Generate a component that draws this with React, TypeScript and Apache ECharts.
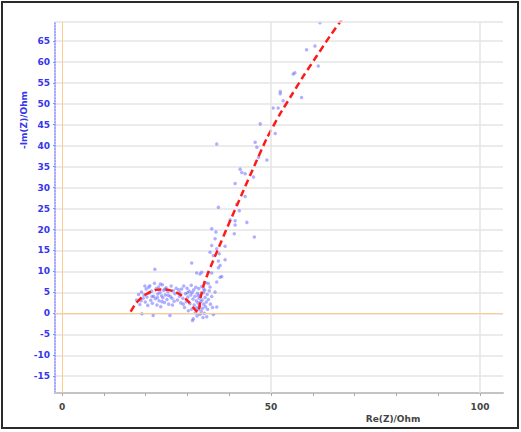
import * as echarts from 'echarts';
import { useEffect, useRef } from 'react';

// 坐标轴刻度
const yTickValues = [-15, -10, -5, 0, 5, 10, 15, 20, 25, 30, 35, 40, 45, 50, 55, 60, 65];
const xLabelValues = [0, 50, 100];
const xTickValues = [0, 10, 20, 30, 40, 50, 60, 70, 80, 90, 100];
const xGridValues = [50, 100];

// 拟合曲线 (红色虚线)
const fitX = [16.4, 17.5, 18.5, 19.5, 20.5, 21.5, 22.5, 23.5, 24.5, 25.5, 26.5, 27.5, 28.5, 29.5, 30.5, 31.3, 32.0, 32.6, 33.2, 34.0, 35.0, 37.0, 40.0, 43.0, 46.0, 49.0, 52.0, 55.0, 58.0, 61.0, 64.0, 67.0];
const fitY = [0.4, 2.2, 3.3, 4.2, 4.8, 5.3, 5.6, 5.7, 5.7, 5.6, 5.3, 4.9, 4.3, 3.5, 2.5, 1.5, 0.7, 0.3, 4.0, 7.2, 9.8, 14.6, 21.6, 28.4, 35.2, 41.8, 47.3, 52.2, 57.0, 61.5, 66.0, 70.2];

// 测量点: 高频半圆
const arcPoints = [
  [17.8, 3.2], [18.3, 4.5], [18.6, 2.1], [19.0, 5.1], [19.1, -0.1], [19.4, 3.6], [19.6, 4.4], [19.9, 2.7],
  [20.1, 5.8], [20.3, 3.9], [20.5, 1.9], [20.8, 4.8], [21.0, 6.6], [21.2, 3.1], [21.4, 5.3], [21.6, 2.4],
  [21.8, -0.5], [21.9, 4.1], [22.1, 7.2], [22.2, 10.5], [22.3, 3.5], [22.5, 5.9], [22.7, 2.0], [22.9, 4.6],
  [23.1, 6.3], [23.2, 3.0], [23.4, 5.0], [23.6, 1.6], [23.8, 4.2], [24.0, 6.8], [24.1, 3.7], [24.3, 5.5],
  [24.5, 2.6], [24.7, 4.4], [24.9, 6.1], [25.1, 3.3], [25.3, 5.2], [25.5, 2.2], [25.8, -0.5], [25.9, 4.0],
  [26.1, 6.5], [26.3, 3.6], [26.6, 5.4], [26.8, 2.9], [27.0, 4.7], [27.3, 6.0], [27.6, 3.2], [27.9, 5.6],
  [28.1, 4.1], [28.4, 2.5], [20.7, 6.2], [21.5, 4.0], [22.8, 3.8], [23.9, 2.8], [24.6, 5.8], [25.4, 4.3],
  [26.4, 2.0], [18.9, 3.0], [19.8, 6.5], [23.5, 7.0],
];

// 测量点: 中间密集区
const midPoints = [
  [28.6, 5.8], [28.9, 3.6], [29.1, 6.5], [29.3, 1.4], [29.5, 4.7], [29.7, 2.8], [29.9, 6.0], [30.1, 3.9],
  [30.2, 0.6], [30.4, 5.3], [30.6, 2.3], [30.8, 4.4], [30.9, 6.7], [31.0, 1.0], [31.2, -1.7], [31.3, 3.4],
  [31.4, -1.3], [31.5, 5.6], [31.6, 2.0], [31.8, 4.1], [31.9, 0.2], [32.0, 6.2], [32.1, 3.0], [32.2, 1.4],
  [32.3, -0.6], [32.4, 4.8], [32.5, 2.5], [32.6, 0.9], [32.7, 5.9], [32.8, 3.6], [32.9, 1.8], [33.0, -0.2],
  [33.1, 4.3], [33.2, 2.8], [33.3, 0.5], [33.4, 6.4], [33.5, 3.2], [33.6, 1.2], [33.7, -1.0], [33.8, 4.9],
  [33.9, 2.2], [34.0, 0.0], [34.1, 5.5], [34.2, 3.8], [34.3, 1.6], [34.4, 7.3], [34.5, 2.7], [34.6, -0.8],
  [34.7, 4.5], [34.8, 1.0], [35.0, 7.1], [35.0, 3.3], [35.2, 5.4], [35.4, 6.3], [35.5, 2.2], [35.8, 4.0],
  [36.0, 1.4], [36.6, 5.1], [37.0, 1.5], [37.0, 7.5], [36.2, -0.3], [30.0, 4.9], [31.1, 5.0], [32.6, 4.2],
  [33.9, 5.8], [29.0, 2.2], [28.2, 4.9],
];

// 测量点: 扩散尾部
const tailPoints = [
  [31.0, 12.0], [32.2, 9.6], [33.0, 9.4], [33.4, 9.8], [35.0, 9.8], [35.8, 9.6], [37.8, 8.6], [38.2, 8.8],
  [37.8, 11.4], [37.4, 10.9], [37.4, 12.5], [39.0, 12.8], [36.2, 13.8], [37.6, 14.2], [35.4, 14.6], [37.0, 15.4],
  [39.0, 16.0], [35.8, 16.2], [36.6, 17.8], [46.0, 18.2], [41.2, 19.0], [36.8, 19.4], [35.8, 20.2], [41.4, 21.1],
  [44.2, 21.7], [40.2, 22.3], [41.4, 22.1], [42.4, 24.5], [37.4, 25.3], [41.8, 26.0], [43.8, 27.9], [41.4, 31.0],
  [45.8, 32.5], [43.8, 33.3], [43.0, 33.6], [42.6, 34.4], [49.0, 36.6], [47.0, 37.2], [46.6, 39.6], [46.2, 40.8],
  [37.0, 40.4], [51.0, 42.9], [47.4, 45.2], [50.5, 49.0], [51.7, 49.0], [52.9, 50.7], [57.3, 51.5], [52.2, 52.4],
  [52.2, 52.9], [55.3, 57.1], [55.7, 57.4], [61.3, 59.0], [58.5, 62.9], [60.5, 63.8], [61.7, 69.3],
];

const gridLine = { color: '#e4e4e4', width: 1.5, type: 'solid' as const };
const zeroLine = { color: '#ffcb95', width: 1, type: 'solid' as const };

const getOptions = (): echarts.EChartsOption => ({
  animation: false,
  backgroundColor: '#ffffff',
  grid: { left: 55, right: 18, top: 22, bottom: 39 },
  xAxis: {
    type: 'value',
    min: -1.7,
    max: 105.5,
    axisLine: { show: true, onZero: false, lineStyle: { color: '#c4c4c4', width: 2 } },
    axisTick: { show: true, customValues: xTickValues, length: 3, lineStyle: { color: '#aaaaaa' } },
    axisLabel: {
      customValues: xLabelValues,
      color: '#444444',
      fontSize: 9,
      fontWeight: 'bold',
      fontFamily: 'DejaVu Sans',
      margin: 9,
    },
    splitLine: { show: false },
  },
  yAxis: {
    type: 'value',
    min: -19,
    max: 69.5,
    axisLine: { show: true, onZero: false, lineStyle: { color: '#8a8aff', type: 'dotted', width: 1.5 } },
    axisTick: { show: true, customValues: yTickValues, length: 2, lineStyle: { color: '#8a8aff' } },
    axisLabel: {
      customValues: yTickValues,
      color: '#3535ee',
      fontSize: 9,
      fontWeight: 'bold',
      fontFamily: 'DejaVu Sans',
      margin: 5,
    },
    splitLine: { show: true, lineStyle: gridLine },
  },
  graphic: [
    {
      type: 'text',
      x: 24,
      y: 120,
      rotation: Math.PI / 2,
      style: {
        text: '-Im(Z)/Ohm',
        fill: '#3535ee',
        font: 'bold 9px "DejaVu Sans"',
        align: 'center',
        verticalAlign: 'middle',
      },
    },
    {
      type: 'text',
      x: 393,
      y: 419,
      style: {
        text: 'Re(Z)/Ohm',
        fill: '#444444',
        font: 'bold 9px "DejaVu Sans"',
        align: 'center',
        verticalAlign: 'middle',
      },
    },
  ],
  series: [
    {
      type: 'line',
      data: [],
      z: 1,
      silent: true,
      markLine: {
        silent: true,
        symbol: 'none',
        label: { show: false },
        data: [
          ...xGridValues.map(v => ({ xAxis: v, lineStyle: gridLine })),
          { yAxis: 69.5, lineStyle: gridLine },
          { xAxis: 0, lineStyle: zeroLine },
          { yAxis: 0, lineStyle: zeroLine },
        ],
      },
    },
    {
      type: 'scatter',
      z: 2,
      symbol: 'circle',
      symbolSize: 3.5,
      itemStyle: { color: 'rgba(90, 90, 255, 0.6)' },
      data: [...arcPoints, ...midPoints, ...tailPoints],
    },
    {
      type: 'line',
      z: 3,
      showSymbol: false,
      symbol: 'none',
      smooth: 0.2,
      lineStyle: { color: '#ff1a1a', width: 2.5, type: [7, 4] },
      data: fitX.map((x, i) => [x, fitY[i]]),
    },
  ],
});

export default function App() {
  const chartRef = useRef<HTMLDivElement>(null);

  useEffect(() => {
    if (!chartRef.current) return;
    const chart = echarts.init(chartRef.current, undefined, { renderer: 'svg' });
    chart.setOption(getOptions());
    return () => {
      chart.dispose();
    };
  }, []);

  return (
    <div style={{ position: 'absolute', left: 0, top: 0, width: 521, height: 432, background: '#fff' }}>
      <div ref={chartRef} style={{ position: 'absolute', left: 0, top: 0, width: 521, height: 432 }} />
      <div
        style={{
          position: 'absolute',
          left: 1,
          top: 1,
          width: 518,
          height: 428,
          boxSizing: 'border-box',
          border: '2px solid #2a2a2a',
          pointerEvents: 'none',
        }}
      />
    </div>
  );
}
